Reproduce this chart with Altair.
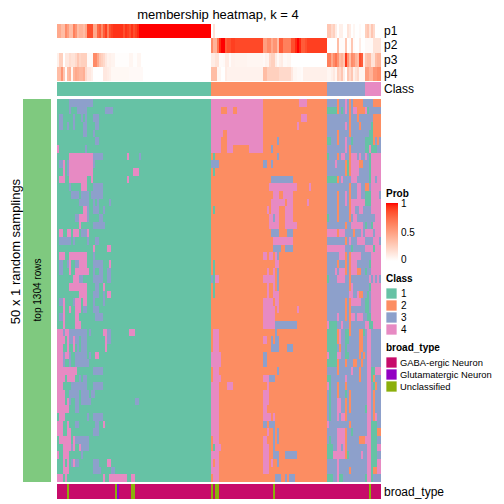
import altair as alt
import pandas as pd

FONT = "Liberation Sans"
CLASS_COLORS = ["#66C2A5", "#FC8D62", "#8DA0CB", "#E78AC3"]
BROAD_NAMES = ["GABA-ergic Neuron", "Glutamatergic Neuron", "Unclassified"]
BROAD_COLORS = ["#C70B6A", "#9300C3", "#8BAF0B"]
SIDE_COLOR = "#7FC97F"
N_COLS = 162
N_ROWS = 50

P1 = [.45,.45,.35,.35,.6,.5,.35,.35,.65,.55,.35,.4,.4,.35,.45,.85,.85,.85,.45,.45,.75,.8,.6,.8,.9,.65,.85,.9,.93,.93,.93,.93,.93,.85,.93,.9,.85,.93,.85,.9,.95,1,1,1,1,1,1,1,1,1,1,1,1,1,1,1,1,1,1,1,1,1,1,1,1,1,1,1,1,1,1,1,1,1,1,1,1,
      0,.15,0,0,0,0,0,0,0,0,0,0,0,0,0,0,0,0,0,0,0,0,0,0,0,0,0,0,0,0,0,0,0,0,0,0,0,0,0,0,0,0,0,0,0,0,0,0,0,0,0,0,0,0,0,0,0,0,
      .3,.3,.2,.25,.1,0,.08,.08,0,0,.15,.1,0,.05,0,0,.03,0,0,
      .25,.3,.15,.3,.2,0,0,0]
P2 = [0,0,0,0,0,0,0,0,0,0,0,0,0,0,0,0,0,0,0,0,0,0,0,0,0,0,0,0,0,0,0,0,0,0,0,0,0,0,0,0,0,0,0,0,0,0,0,0,0,0,0,0,0,0,0,0,0,0,0,0,0,0,0,0,0,0,0,0,0,0,0,0,0,0,0,0,0,
      .6,.4,.4,.7,.95,1,1,.8,.85,.85,.9,.9,.87,.87,.87,.87,.87,.87,.87,.87,.87,.87,.87,.87,.87,.87,.5,.5,.6,.6,.45,.55,.55,.35,.8,.8,.65,.65,.65,.65,.85,.85,.95,1,.95,.8,.8,.85,.9,.9,.9,.9,.9,.9,.9,.9,.9,.9,
      0,0,0,0,0,.35,.02,.02,.02,.3,0,.02,.3,.02,0,0,.1,0,0,
      .03,.03,.03,.03,.15,.15,.15,.15]
P3 = [.08,.25,.25,0,.12,.12,.18,.15,.15,.2,.3,.22,.25,.25,.25,.03,.03,.03,.6,.6,.45,.3,.25,.2,.12,.07,.08,.06,.06,.01,.01,.01,.01,.01,.01,.01,.05,.05,.01,.01,.05,.05,0,0,0,0,0,0,0,0,0,0,0,0,0,0,0,0,0,0,0,0,0,0,0,0,0,0,0,0,0,0,0,0,0,0,0,
      .1,.1,.15,.15,.02,.02,.03,.1,.1,.02,.07,.07,.06,.06,.06,.06,.06,.06,.05,.05,.05,.05,.05,.05,.05,.05,.03,.07,.06,.2,.25,.25,.1,.03,.08,.1,.03,.03,.05,.05,0,0,0,0,0,0,0,0,0,0,0,0,0,0,0,0,0,0,
      .65,.65,.45,.6,.7,.55,.35,.4,.3,.92,.55,.35,.6,.55,.4,.35,.85,.8,.1,
      .3,.35,.35,.15,.15,.35,.4,.4]
P4 = [.35,.35,.55,.3,.02,.35,.4,.05,.38,.45,.42,.38,.38,.42,.2,.12,.12,.08,0,0,0,0,0,.12,.12,.1,.08,.04,.04,.04,.04,.04,.04,.04,.04,.04,.03,.03,.03,.03,.03,.03,.03,0,0,0,0,0,0,0,0,0,0,0,0,0,0,0,0,0,0,0,0,0,0,0,0,0,0,0,0,0,0,0,0,0,0,
      .35,.35,.35,.05,.05,0,0,.1,.07,.07,.07,.07,.07,.07,.07,.07,.07,.07,.07,.07,.07,.07,.07,.07,.07,.07,.35,.35,.25,.25,.25,.25,.25,.25,.2,.2,.2,.2,.2,.2,.12,.05,.05,.03,.03,.02,.08,.08,.08,.08,.08,.08,.08,.08,.08,.08,.08,.08,
      .05,.05,.08,.12,.05,.25,.2,.3,.1,0,.3,.2,.3,.08,.15,.2,.05,.05,.05,
      .5,.5,.4,.4,.55,.55,.6,.6]

CLASS_RUNS = [("1", 0, 77), ("2", 77, 135), ("3", 135, 154), ("4", 154, 162)]
UNCLASSIFIED_COLS = [5, 29, 37, 38, 77, 79, 80, 108, 156]
GLUTAMATERGIC_COLS = [30]

# (class, first column, last column) departures from class 1 in the first block
BLOCK1 = [
 [(3,6,17)],
 [(3,6,6),(3,10,14),(3,24,27)],
 [(3,1,2),(3,8,8),(3,12,12),(3,14,14),(3,18,20)],
 [(3,1,2),(3,5,5),(3,8,8),(3,13,14),(3,19,20)],
 [(3,13,14),(3,18,18)],
 [(3,19,20)],
 [(4,0,0),(3,14,14)],
 [(4,6,17),(3,18,22),(4,35,35),(3,41,41)],
 [(3,1,2),(4,3,3),(3,5,5),(4,6,17),(3,18,18)],
 [(4,3,3),(3,5,5),(4,6,17),(4,38,40)],
 [(4,1,3),(4,6,14),(4,17,17),(4,35,35)],
 [(3,6,6),(4,12,14),(3,18,22)],
 [(3,7,8),(3,9,10),(3,12,15),(3,17,22)],
 [(3,11,15),(3,18,18),(3,20,20),(3,26,26)],
 [(4,13,14),(3,15,15),(3,18,20),(3,23,23)],
 [(3,9,10),(4,11,14),(3,15,15),(3,21,22)],
 [(4,11,11),(3,18,23)],
 [(4,1,2),(4,5,6),(4,8,10),(3,12,14),(4,15,15)],
 [(3,1,2),(3,3,6),(3,8,8),(3,15,15),(3,19,20)],
 [(4,18,18),(4,25,26)],
 [(4,1,3),(4,6,14),(3,18,18)],
 [(3,1,2),(3,5,5),(4,6,6),(3,9,10),(4,11,14),(3,18,18),(3,19,20),(3,21,22),(4,26,26)],
 [(3,1,2),(4,6,6),(4,9,15),(3,18,18),(3,21,22),(3,25,26)],
 [(4,8,10),(3,11,12),(3,18,22),(3,25,26)],
 [(4,6,14),(3,19,20),(4,23,23)],
 [(4,11,14),(3,18,20),(3,23,23),(4,25,26)],
 [(3,1,2),(4,3,3),(3,8,8),(4,9,11),(4,13,14),(3,18,18),(3,23,23)],
 [(4,3,3),(4,6,6),(4,9,11),(3,13,14),(3,18,20)],
 [(3,1,2),(4,3,3),(4,9,10),(3,19,20),(3,21,22)],
 [(4,3,3),(4,9,11)],
 [(4,0,2),(3,3,3),(4,4,5),(3,6,14),(3,16,16),(4,23,24),(3,25,26),(4,36,38)],
 [(4,0,3),(4,5,5),(3,6,7),(4,8,8),(3,9,10),(3,12,14),(4,24,24),(3,25,26)],
 [(4,0,2),(4,5,5),(4,8,8),(3,10,10),(3,12,14),(4,24,24)],
 [(4,0,2),(3,3,3),(4,4,5),(3,6,6),(3,9,14),(3,16,16),(4,19,20)],
 [(4,0,2),(3,3,3),(3,6,6),(3,9,15)],
 [(4,0,9),(3,18,22)],
 [(4,0,3),(4,5,8),(3,11,11),(3,13,14)],
 [(4,0,2),(3,7,14),(3,18,20),(3,21,22)],
 [(4,0,3),(3,6,10),(3,12,15),(3,17,18)],
 [(4,0,3),(4,5,5),(3,6,6),(3,9,10),(3,12,16),(3,39,40)],
 [(4,0,5),(3,9,10)],
 [(4,1,3),(3,15,15),(3,18,22)],
 [(4,0,2),(4,5,5),(3,9,10),(3,19,20),(4,23,23)],
 [(4,0,2),(4,5,6),(3,18,20)],
 [(4,1,6),(4,8,8),(3,9,15)],
 [(4,3,6),(3,7,7),(4,8,8),(4,11,11),(3,12,15)],
 [(4,0,0),(4,3,5),(3,12,12)],
 [(4,3,3),(4,5,5),(3,7,7),(4,8,8),(3,9,10),(3,18,20),(4,25,26)],
 [(4,3,5),(3,18,21),(3,27,28)],
 [(4,0,2),(4,4,4),(4,23,23),(4,26,34),(4,37,38)],
]

# (class, first, last) departures from class 2, counted from the block's first column
BLOCK2 = [
 [(4,0,25),(4,44,47)],
 [(4,0,4),(4,8,10),(4,13,25)],
 [(4,0,25),(4,45,47)],
 [(4,0,25),(4,43,43)],
 [(4,0,5),(4,8,25)],
 [(4,0,4),(4,8,25),(3,33,33)],
 [(4,0,4),(4,8,10),(4,19,25),(3,30,30)],
 [(1,1,1),(3,33,33)],
 [(3,0,3),(3,26,27),(3,30,30)],
 [(1,1,1)],
 [(3,30,40)],
 [(4,29,42),(4,49,49)],
 [(4,31,33),(4,36,40)],
 [(4,30,36),(4,38,40),(4,48,48)],
 [(1,1,1),(4,28,28),(4,30,33),(4,37,40)],
 [(4,29,30),(3,31,31),(4,32,33),(4,37,40)],
 [(4,29,33),(4,37,42)],
 [(3,30,33),(3,38,40)],
 [(4,31,40)],
 [(3,31,34),(3,37,40)],
 [(4,26,27),(4,29,30),(4,32,32),(3,33,33)],
 [(1,1,1),(4,32,33)],
 [(1,1,1),(4,28,28),(4,31,31),(3,33,33)],
 [(3,0,0),(1,1,1),(4,2,3),(4,26,31),(3,33,33)],
 [(1,1,1),(4,28,28),(4,31,31),(3,33,33)],
 [(1,1,1),(4,28,28),(4,31,33)],
 [(4,26,30),(4,32,33)],
 [(4,26,31),(4,33,33),(4,43,43)],
 [(4,26,31)],
 [(4,26,31),(3,32,42)],
 [(4,1,3),(3,32,32)],
 [(4,1,3),(4,26,27),(3,30,30),(3,32,33)],
 [(4,1,3),(3,30,33),(3,38,40)],
 [(4,0,4),(3,26,27)],
 [(4,0,4),(3,26,27)],
 [(4,1,3),(3,33,33)],
 [(4,1,4),(4,26,28),(3,29,31)],
 [(4,0,3),(4,8,10),(4,28,28)],
 [(4,0,3),(4,26,28)],
 [(4,0,3),(4,26,28)],
 [(4,0,3),(4,26,27)],
 [(4,0,3),(4,26,29),(4,31,31)],
 [(4,0,3),(3,26,27),(3,29,31)],
 [(4,0,3),(4,28,28),(3,31,31),(3,33,33)],
 [(4,1,3),(4,26,27),(3,31,31),(3,33,33)],
 [(1,1,1),(4,2,4),(4,26,28),(3,31,31)],
 [(4,0,3),(4,26,28),(3,31,33),(3,37,42)],
 [(4,0,0),(4,2,3),(4,26,28),(4,30,30),(3,33,33)],
 [(4,0,3),(4,26,28)],
 [(4,1,3),(3,32,34),(3,37,37),(3,39,41)],
]

# last 27 columns, row by row: t=class 1, o=class 2, b=class 3, p=class 4
BLOCK3 = [
 "bbbbbobbbpbobooooobbbbboooo",
 "tttttobtbpbobppoooopt" "bbbbbb",
 "bbbbbbbbbbbobbbobbbbbbboooo",
 "bbbbbbbbbpbobbbbobbbbbtoooo",
 "bbbbbobbbbbobbbbbbbbbttoooo",
 "ttbbbobbbpbbtbbbbbbttttobob",
 "bbbbbbbbbpbobbbbbbbttptttbb",
 "tbbbbobppbbopppbpbbpbtppppp",
 "bbbbpbbbbotoppppoobbbtppppp",
 "bbbbbbbbbotoppppbbbbbtppppp",
 "tttttobpbbbbpppbbbbbbtppbpp",
 "bbbbbbbbbbbobbbppbboo" "bppppp",
 "bbbbbobbbpbobbbppbbtttppppb",
 "bbbbbobbbpboppppppptttppppp",
 "bbbbbobbbbboppbbppbbbbppppp",
 "tbbbbobbbbbobppbbbbbbbbbppp",
 "bbbbbbbbbobbppppppbtbbtpppp",
 "pppppopppbbbbobbbpbppppbppp",
 "bbbbbbbbbobpbbbppppbbbbpppb",
 "pppppppppbbbtbbbbbbpppp" "tppp",
 "bbbbbbpppobopppppbbbbbppppp",
 "bbbbbobbbobopppbbbbbbtppppp",
 "bbbbpbpppobopppoobbtbbppppp",
 "tbbbbppppbbobbbbbbbbbpbpbpb",
 "bbbbbbbbbbbopbbbbbbbbtppppp",
 "bbbbbbbbbbbppbbpoobbtbppppp",
 "bbbbbbbbbobopppppbbttbppppp",
 "bbbbbbbbbobobbbbbbbttbppppp",
 "bbbbbpbbbobopp" "bpppbbttppppp",
 "pttttbbpbbbobbbbbbbpptt" "pppp",
 "tttttopbbttobbbbootbppbbbbb",
 "tttttopbbttbbbbboobbppbbbbb",
 "tttttbobbtbbbbbboobbppbbbbb",
 "pttttppbbttbbbbbobobppbbbbb",
 "tttttobbbobbb" "oobbobbppbbbbb",
 "bbbbbobbbbbbpbbbobbbpptt" "ppp",
 "ttbbbbbbbpbbbbbbobbbpptobbb",
 "ptbbbobbbobbbbbbbbbbppbtobb",
 "btbbbobbbtbobbbbbbbbppbobbb",
 "btbbbppbbobobbbbbbbbppbobbb",
 "btbbbppbbobobbbbbbbtppbobbb",
 "btbbbpbppobbbbbbbbbbppbopbb",
 "pbbbbbbbbbbobbbbbbbbpptttbb",
 "bbbbbppppobbtbbbbbbbpptttoo",
 "btbbbppppobbbbbbooopppttt" "bb",
 "tttbbppbpobbbbbbbbbbpptttpp",
 "tttppppppotbbbbbbpbbpptttbb",
 "bbbbbpbbbbbbbbbbbbbbpptttpp",
 "bbbbbpbbbbbobbbbbbbbpptoopp",
 "tttbbpttbbbbbbbbbbbtpptbbbb",
]

GRID_CLASS = {"t": "1", "o": "2", "b": "3", "p": "4"}


def build_row(r):
    cells = ["1"] * 77 + ["2"] * 58
    for c, a, b in BLOCK1[r]:
        for i in range(a, b + 1):
            cells[i] = str(c)
    for c, a, b in BLOCK2[r]:
        for i in range(a + 77, min(b + 77, 134) + 1):
            cells[i] = str(c)
    tail = [GRID_CLASS[ch] for ch in BLOCK3[r]][:27]
    tail += ["3"] * (27 - len(tail))
    return cells + tail


records = []
for r in range(N_ROWS):
    row_cells = build_row(r)
    start = 0
    for i in range(1, N_COLS + 1):
        if i == N_COLS or row_cells[i] != row_cells[start]:
            records.append({"s": start, "e": i, "r0": r, "r1": r + 1, "cls": row_cells[start]})
            start = i
heat_df = pd.DataFrame(records)

prob_records = []
for k, vals in enumerate([P1, P2, P3, P4]):
    for i, v in enumerate(vals):
        prob_records.append({"s": i, "e": i + 1, "r0": k, "r1": k + 1, "prob": v})
prob_df = pd.DataFrame(prob_records)

class_df = pd.DataFrame([{"s": a, "e": b, "r0": 0, "r1": 1, "cls": c} for c, a, b in CLASS_RUNS])

broad = [BROAD_NAMES[0]] * N_COLS
for i in UNCLASSIFIED_COLS:
    broad[i] = BROAD_NAMES[2]
for i in GLUTAMATERGIC_COLS:
    broad[i] = BROAD_NAMES[1]
broad_df = pd.DataFrame([{"s": i, "e": i + 1, "r0": 0, "r1": 1, "b": broad[i]} for i in range(N_COLS)])


def xscale():
    return alt.Scale(domain=[0, N_COLS], range=[49, 373], zero=False, nice=False, round=True)


def yscale(n, top, bottom):
    return alt.Scale(domain=[0, n], range=[top, bottom], zero=False, nice=False, round=True)


def cells(df, ys, **enc):
    return alt.Chart(df).mark_rect(strokeWidth=0).encode(
        x=alt.X("s:Q", scale=xscale(), axis=None),
        x2="e:Q",
        y=alt.Y("r0:Q", scale=ys, axis=None),
        y2="r1:Q",
        **enc,
    )


legend_common = dict(
    orient="none",
    titleFont=FONT, titleFontSize=10, titleFontWeight="bold", titleColor="#000000",
    labelColor="#000000", labelFont=FONT,
)

prob_layer = cells(
    prob_df, yscale(4, 16, 73),
    color=alt.Color(
        "prob:Q",
        scale=alt.Scale(domain=[0, 1], range=["#FFFFFF", "#FF0000"], interpolate="lab"),
        legend=alt.Legend(
            title="Prob", legendX=378, legendY=181, gradientLength=58, gradientThickness=12,
            values=[0, 1], labelExpr="''", titlePadding=4, **legend_common,
        ),
    ),
)
class_layer = cells(
    class_df, yscale(1, 74, 88),
    color=alt.Color("cls:N", scale=alt.Scale(domain=["1", "2", "3", "4"], range=CLASS_COLORS), legend=None),
)
heat_layer = cells(
    heat_df, yscale(N_ROWS, 91, 474),
    color=alt.Color(
        "cls:N",
        scale=alt.Scale(domain=["1", "2", "3", "4"], range=CLASS_COLORS),
        legend=alt.Legend(
            title="Class", legendX=378, legendY=266, symbolType="square", symbolSize=106,
            symbolStrokeWidth=0, symbolOpacity=1, rowPadding=1, labelFontSize=10, labelOffset=4,
            titlePadding=4, **legend_common,
        ),
    ),
)
broad_layer = cells(
    broad_df, yscale(1, 476, 491),
    color=alt.Color(
        "b:N",
        scale=alt.Scale(domain=BROAD_NAMES, range=BROAD_COLORS),
        legend=alt.Legend(
            title="broad_type", legendX=378, legendY=335, symbolType="square", symbolSize=106,
            symbolStrokeWidth=0, symbolOpacity=1, rowPadding=1, labelFontSize=9.4, labelOffset=3,
            titlePadding=4, labelLimit=200, **legend_common,
        ),
    ),
)

side_df = pd.DataFrame({"n": [1]})
side_bar = alt.Chart(side_df).mark_rect(color=SIDE_COLOR, strokeWidth=0).encode(
    x=alt.value(15), x2=alt.value(43), y=alt.value(91), y2=alt.value(474)
)


def label(text, x, y, size, align="left", angle=None):
    kw = dict(font=FONT, fontSize=size, align=align, baseline="middle", color="#000000")
    if angle is not None:
        kw["angle"] = angle
    return alt.Chart(pd.DataFrame({"t": [text]})).mark_text(**kw).encode(
        x=alt.value(x), y=alt.value(y), text="t:N"
    )


texts = [
    label("membership heatmap, k = 4", 210, 7, 13, align="center"),
    label("50 x 1 random samplings", 8, 243.5, 13, align="center", angle=270),
    label("top 1304 rows", 30, 282, 10, align="center", angle=270),
    label("p1", 376, 23, 12), label("p2", 376, 37, 12),
    label("p3", 376, 52, 12), label("p4", 376, 66, 12),
    label("Class", 376, 81, 12), label("broad_type", 376, 484, 12),
    label("1", 393, 196, 10), label("0.5", 393, 225, 10), label("0", 393, 252, 10),
]

tick_df = pd.DataFrame({"v": [0.5, 1]})
tick_y = alt.Y("v:Q", scale=alt.Scale(domain=[0, 1], range=[253, 195], zero=False, nice=False), axis=None)
ticks = [
    alt.Chart(tick_df).mark_rule(color="#FFFFFF", strokeWidth=1).encode(y=tick_y, x=alt.value(a), x2=alt.value(b))
    for a, b in [(378, 381), (387, 390)]
]

chart = alt.layer(
    prob_layer, class_layer, heat_layer, broad_layer, side_bar, *ticks, *texts
).resolve_scale(
    x="independent", y="independent", color="independent"
).properties(
    width=488, height=494, padding=0, autosize=alt.AutoSizeParams(type="none"),
).configure_view(strokeWidth=0)

chart.save("out.html", embed_options={"renderer": "svg", "actions": False})
